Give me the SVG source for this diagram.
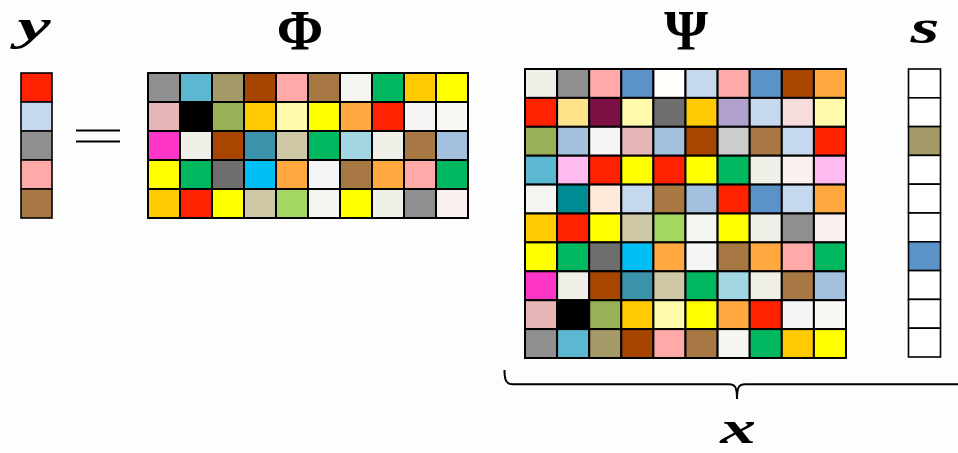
<svg xmlns="http://www.w3.org/2000/svg" width="958" height="453" viewBox="0 0 958 453">
<style>
.c{stroke:#000;stroke-width:2}
.v{stroke:#000;stroke-width:1.6}
.lbl{font-family:"Liberation Serif","DejaVu Serif",serif;font-weight:bold;text-anchor:middle;fill:#000}
.it{font-style:italic}
.ln{fill:none;stroke:#000;stroke-width:2}
</style>
<rect width="958" height="453" fill="#fdfdfd"/>
<g id="labels">
<text class="lbl it" transform="translate(34,39.5) scale(1.7,1)" x="0" y="0" font-size="44">y</text>
<text class="lbl" x="300" y="50" font-size="56">Φ</text>
<text class="lbl" x="686" y="50" font-size="56">Ψ</text>
<text class="lbl it" transform="translate(925,43) scale(1.55,1)" x="0" y="0" font-size="48">s</text>
<text class="lbl it" transform="translate(738,443) scale(1.55,1)" x="0" y="0" font-size="46">x</text>
</g>
<g id="y-vector">
<rect class="v" x="21" y="73" width="31" height="29" fill="#ff2200"/>
<rect class="v" x="21" y="102" width="31" height="29" fill="#c5d8ed"/>
<rect class="v" x="21" y="131" width="31" height="29" fill="#8f8f8f"/>
<rect class="v" x="21" y="160" width="31" height="29" fill="#ffa9a9"/>
<rect class="v" x="21" y="189" width="31" height="29" fill="#a87844"/>
</g>
<g id="equals">
<line class="ln" x1="76" y1="130.5" x2="120" y2="130.5"/>
<line class="ln" x1="76" y1="141.5" x2="120" y2="141.5"/>
</g>
<g id="phi-matrix">
<g transform="translate(0,73)">
<rect class="c" x="148" width="32" height="29" fill="#8f8f8f"/>
<rect class="c" x="180" width="32" height="29" fill="#5bb8d0"/>
<rect class="c" x="212" width="32" height="29" fill="#a39a67"/>
<rect class="c" x="244" width="32" height="29" fill="#a54500"/>
<rect class="c" x="276" width="32" height="29" fill="#ffa9a9"/>
<rect class="c" x="308" width="32" height="29" fill="#a87844"/>
<rect class="c" x="340" width="32" height="29" fill="#f5f5f2"/>
<rect class="c" x="372" width="32" height="29" fill="#00b860"/>
<rect class="c" x="404" width="32" height="29" fill="#ffcb00"/>
<rect class="c" x="436" width="32" height="29" fill="#ffff00"/>
</g>
<g transform="translate(0,102)">
<rect class="c" x="148" width="32" height="29" fill="#e6b6b6"/>
<rect class="c" x="180" width="32" height="29" fill="#000000"/>
<rect class="c" x="212" width="32" height="29" fill="#98b057"/>
<rect class="c" x="244" width="32" height="29" fill="#ffcb00"/>
<rect class="c" x="276" width="32" height="29" fill="#fffbaa"/>
<rect class="c" x="308" width="32" height="29" fill="#ffff00"/>
<rect class="c" x="340" width="32" height="29" fill="#ffa940"/>
<rect class="c" x="372" width="32" height="29" fill="#ff2200"/>
<rect class="c" x="404" width="32" height="29" fill="#f5f5f5"/>
<rect class="c" x="436" width="32" height="29" fill="#f8f8f5"/>
</g>
<g transform="translate(0,131)">
<rect class="c" x="148" width="32" height="29" fill="#ff35c8"/>
<rect class="c" x="180" width="32" height="29" fill="#f0f0e8"/>
<rect class="c" x="212" width="32" height="29" fill="#a84500"/>
<rect class="c" x="244" width="32" height="29" fill="#3a93aa"/>
<rect class="c" x="276" width="32" height="29" fill="#cec8a6"/>
<rect class="c" x="308" width="32" height="29" fill="#00b860"/>
<rect class="c" x="340" width="32" height="29" fill="#a2d6e3"/>
<rect class="c" x="372" width="32" height="29" fill="#f0f0e8"/>
<rect class="c" x="404" width="32" height="29" fill="#a87844"/>
<rect class="c" x="436" width="32" height="29" fill="#a4c0df"/>
</g>
<g transform="translate(0,160)">
<rect class="c" x="148" width="32" height="29" fill="#ffff00"/>
<rect class="c" x="180" width="32" height="29" fill="#00b860"/>
<rect class="c" x="212" width="32" height="29" fill="#6e6e6e"/>
<rect class="c" x="244" width="32" height="29" fill="#00bff5"/>
<rect class="c" x="276" width="32" height="29" fill="#ffa940"/>
<rect class="c" x="308" width="32" height="29" fill="#f5f5f5"/>
<rect class="c" x="340" width="32" height="29" fill="#a87844"/>
<rect class="c" x="372" width="32" height="29" fill="#ffa940"/>
<rect class="c" x="404" width="32" height="29" fill="#ffa9a9"/>
<rect class="c" x="436" width="32" height="29" fill="#00b860"/>
</g>
<g transform="translate(0,189)">
<rect class="c" x="148" width="32" height="29" fill="#ffcb00"/>
<rect class="c" x="180" width="32" height="29" fill="#ff2200"/>
<rect class="c" x="212" width="32" height="29" fill="#ffff00"/>
<rect class="c" x="244" width="32" height="29" fill="#cec8a6"/>
<rect class="c" x="276" width="32" height="29" fill="#a3d762"/>
<rect class="c" x="308" width="32" height="29" fill="#f5f5f2"/>
<rect class="c" x="340" width="32" height="29" fill="#ffff00"/>
<rect class="c" x="372" width="32" height="29" fill="#f0f0e8"/>
<rect class="c" x="404" width="32" height="29" fill="#8f8f8f"/>
<rect class="c" x="436" width="32" height="29" fill="#fbf0f0"/>
</g>
</g>
<g id="psi-matrix">
<g transform="translate(0,69)">
<rect class="c" x="525" width="32.1" height="28.9" fill="#f0f0e8"/>
<rect class="c" x="557.1" width="32.1" height="28.9" fill="#8f8f8f"/>
<rect class="c" x="589.2" width="32.1" height="28.9" fill="#ffa9a9"/>
<rect class="c" x="621.3" width="32.1" height="28.9" fill="#5b93c8"/>
<rect class="c" x="653.4" width="32.1" height="28.9" fill="#fffffc"/>
<rect class="c" x="685.5" width="32.1" height="28.9" fill="#c5d8ed"/>
<rect class="c" x="717.6" width="32.1" height="28.9" fill="#ffa9a9"/>
<rect class="c" x="749.7" width="32.1" height="28.9" fill="#5b93c8"/>
<rect class="c" x="781.8" width="32.1" height="28.9" fill="#a84500"/>
<rect class="c" x="813.9" width="32.1" height="28.9" fill="#ffa940"/>
</g>
<g transform="translate(0,97.9)">
<rect class="c" x="525" width="32.1" height="28.9" fill="#ff2200"/>
<rect class="c" x="557.1" width="32.1" height="28.9" fill="#ffe38a"/>
<rect class="c" x="589.2" width="32.1" height="28.9" fill="#7d1045"/>
<rect class="c" x="621.3" width="32.1" height="28.9" fill="#fffbaa"/>
<rect class="c" x="653.4" width="32.1" height="28.9" fill="#6e6e6e"/>
<rect class="c" x="685.5" width="32.1" height="28.9" fill="#ffcb00"/>
<rect class="c" x="717.6" width="32.1" height="28.9" fill="#b0a0cc"/>
<rect class="c" x="749.7" width="32.1" height="28.9" fill="#c5d8ed"/>
<rect class="c" x="781.8" width="32.1" height="28.9" fill="#f7dcdc"/>
<rect class="c" x="813.9" width="32.1" height="28.9" fill="#fffbaa"/>
</g>
<g transform="translate(0,126.8)">
<rect class="c" x="525" width="32.1" height="28.9" fill="#98b057"/>
<rect class="c" x="557.1" width="32.1" height="28.9" fill="#a4c0df"/>
<rect class="c" x="589.2" width="32.1" height="28.9" fill="#f5f5f5"/>
<rect class="c" x="621.3" width="32.1" height="28.9" fill="#e6b6b6"/>
<rect class="c" x="653.4" width="32.1" height="28.9" fill="#a4c0df"/>
<rect class="c" x="685.5" width="32.1" height="28.9" fill="#a84500"/>
<rect class="c" x="717.6" width="32.1" height="28.9" fill="#cccccc"/>
<rect class="c" x="749.7" width="32.1" height="28.9" fill="#a87844"/>
<rect class="c" x="781.8" width="32.1" height="28.9" fill="#c5d8ed"/>
<rect class="c" x="813.9" width="32.1" height="28.9" fill="#ff2200"/>
</g>
<g transform="translate(0,155.7)">
<rect class="c" x="525" width="32.1" height="28.9" fill="#5bb8d0"/>
<rect class="c" x="557.1" width="32.1" height="28.9" fill="#ffbbf0"/>
<rect class="c" x="589.2" width="32.1" height="28.9" fill="#ff2200"/>
<rect class="c" x="621.3" width="32.1" height="28.9" fill="#ffff00"/>
<rect class="c" x="653.4" width="32.1" height="28.9" fill="#ff2200"/>
<rect class="c" x="685.5" width="32.1" height="28.9" fill="#ffff00"/>
<rect class="c" x="717.6" width="32.1" height="28.9" fill="#00b860"/>
<rect class="c" x="749.7" width="32.1" height="28.9" fill="#f0f0e8"/>
<rect class="c" x="781.8" width="32.1" height="28.9" fill="#fbf0f0"/>
<rect class="c" x="813.9" width="32.1" height="28.9" fill="#ffbbf0"/>
</g>
<g transform="translate(0,184.6)">
<rect class="c" x="525" width="32.1" height="28.9" fill="#f5f5f2"/>
<rect class="c" x="557.1" width="32.1" height="28.9" fill="#008c94"/>
<rect class="c" x="589.2" width="32.1" height="28.9" fill="#ffeadc"/>
<rect class="c" x="621.3" width="32.1" height="28.9" fill="#c5d8ed"/>
<rect class="c" x="653.4" width="32.1" height="28.9" fill="#a87844"/>
<rect class="c" x="685.5" width="32.1" height="28.9" fill="#a4c0df"/>
<rect class="c" x="717.6" width="32.1" height="28.9" fill="#ff2200"/>
<rect class="c" x="749.7" width="32.1" height="28.9" fill="#5b93c8"/>
<rect class="c" x="781.8" width="32.1" height="28.9" fill="#c5d8ed"/>
<rect class="c" x="813.9" width="32.1" height="28.9" fill="#ffa940"/>
</g>
<g transform="translate(0,213.5)">
<rect class="c" x="525" width="32.1" height="28.9" fill="#ffcb00"/>
<rect class="c" x="557.1" width="32.1" height="28.9" fill="#ff2200"/>
<rect class="c" x="589.2" width="32.1" height="28.9" fill="#ffff00"/>
<rect class="c" x="621.3" width="32.1" height="28.9" fill="#cec8a6"/>
<rect class="c" x="653.4" width="32.1" height="28.9" fill="#a3d762"/>
<rect class="c" x="685.5" width="32.1" height="28.9" fill="#f5f5f2"/>
<rect class="c" x="717.6" width="32.1" height="28.9" fill="#ffff00"/>
<rect class="c" x="749.7" width="32.1" height="28.9" fill="#f0f0e8"/>
<rect class="c" x="781.8" width="32.1" height="28.9" fill="#8f8f8f"/>
<rect class="c" x="813.9" width="32.1" height="28.9" fill="#fbf0f0"/>
</g>
<g transform="translate(0,242.4)">
<rect class="c" x="525" width="32.1" height="28.9" fill="#ffff00"/>
<rect class="c" x="557.1" width="32.1" height="28.9" fill="#00b860"/>
<rect class="c" x="589.2" width="32.1" height="28.9" fill="#6e6e6e"/>
<rect class="c" x="621.3" width="32.1" height="28.9" fill="#00bff5"/>
<rect class="c" x="653.4" width="32.1" height="28.9" fill="#ffa940"/>
<rect class="c" x="685.5" width="32.1" height="28.9" fill="#f5f5f5"/>
<rect class="c" x="717.6" width="32.1" height="28.9" fill="#a87844"/>
<rect class="c" x="749.7" width="32.1" height="28.9" fill="#ffa940"/>
<rect class="c" x="781.8" width="32.1" height="28.9" fill="#ffa9a9"/>
<rect class="c" x="813.9" width="32.1" height="28.9" fill="#00b860"/>
</g>
<g transform="translate(0,271.3)">
<rect class="c" x="525" width="32.1" height="28.9" fill="#ff35c8"/>
<rect class="c" x="557.1" width="32.1" height="28.9" fill="#f0f0e8"/>
<rect class="c" x="589.2" width="32.1" height="28.9" fill="#a84500"/>
<rect class="c" x="621.3" width="32.1" height="28.9" fill="#3a93aa"/>
<rect class="c" x="653.4" width="32.1" height="28.9" fill="#cec8a6"/>
<rect class="c" x="685.5" width="32.1" height="28.9" fill="#00b860"/>
<rect class="c" x="717.6" width="32.1" height="28.9" fill="#a2d6e3"/>
<rect class="c" x="749.7" width="32.1" height="28.9" fill="#f0f0e8"/>
<rect class="c" x="781.8" width="32.1" height="28.9" fill="#a87844"/>
<rect class="c" x="813.9" width="32.1" height="28.9" fill="#a4c0df"/>
</g>
<g transform="translate(0,300.2)">
<rect class="c" x="525" width="32.1" height="28.9" fill="#e6b6b6"/>
<rect class="c" x="557.1" width="32.1" height="28.9" fill="#000000"/>
<rect class="c" x="589.2" width="32.1" height="28.9" fill="#98b057"/>
<rect class="c" x="621.3" width="32.1" height="28.9" fill="#ffcb00"/>
<rect class="c" x="653.4" width="32.1" height="28.9" fill="#fffbaa"/>
<rect class="c" x="685.5" width="32.1" height="28.9" fill="#ffff00"/>
<rect class="c" x="717.6" width="32.1" height="28.9" fill="#ffa940"/>
<rect class="c" x="749.7" width="32.1" height="28.9" fill="#ff2200"/>
<rect class="c" x="781.8" width="32.1" height="28.9" fill="#f5f5f5"/>
<rect class="c" x="813.9" width="32.1" height="28.9" fill="#f8f8f5"/>
</g>
<g transform="translate(0,329.1)">
<rect class="c" x="525" width="32.1" height="28.9" fill="#8f8f8f"/>
<rect class="c" x="557.1" width="32.1" height="28.9" fill="#5bb8d0"/>
<rect class="c" x="589.2" width="32.1" height="28.9" fill="#a39a67"/>
<rect class="c" x="621.3" width="32.1" height="28.9" fill="#a54500"/>
<rect class="c" x="653.4" width="32.1" height="28.9" fill="#ffa9a9"/>
<rect class="c" x="685.5" width="32.1" height="28.9" fill="#a87844"/>
<rect class="c" x="717.6" width="32.1" height="28.9" fill="#f5f5f2"/>
<rect class="c" x="749.7" width="32.1" height="28.9" fill="#00b860"/>
<rect class="c" x="781.8" width="32.1" height="28.9" fill="#ffcb00"/>
<rect class="c" x="813.9" width="32.1" height="28.9" fill="#ffff00"/>
</g>
</g>
<g id="s-vector">
<rect class="v" x="908.5" y="69" width="32" height="28.8" fill="#ffffff"/>
<rect class="v" x="908.5" y="97.8" width="32" height="28.8" fill="#ffffff"/>
<rect class="v" x="908.5" y="126.6" width="32" height="28.8" fill="#a39a67"/>
<rect class="v" x="908.5" y="155.4" width="32" height="28.8" fill="#ffffff"/>
<rect class="v" x="908.5" y="184.2" width="32" height="28.8" fill="#ffffff"/>
<rect class="v" x="908.5" y="213" width="32" height="28.8" fill="#ffffff"/>
<rect class="v" x="908.5" y="241.8" width="32" height="28.8" fill="#5b93c8"/>
<rect class="v" x="908.5" y="270.6" width="32" height="28.8" fill="#ffffff"/>
<rect class="v" x="908.5" y="299.4" width="32" height="28.8" fill="#ffffff"/>
<rect class="v" x="908.5" y="328.2" width="32" height="28.8" fill="#ffffff"/>
</g>
<g id="connectors">
<path class="ln" d="M504.5,370 C504.5,380 506,384.3 513,384.3 L729,384.3 C734.5,384.3 737,386 737,399 C737,386 739.5,384.3 745,384.3 L970,384.3"/>
</g>
</svg>
